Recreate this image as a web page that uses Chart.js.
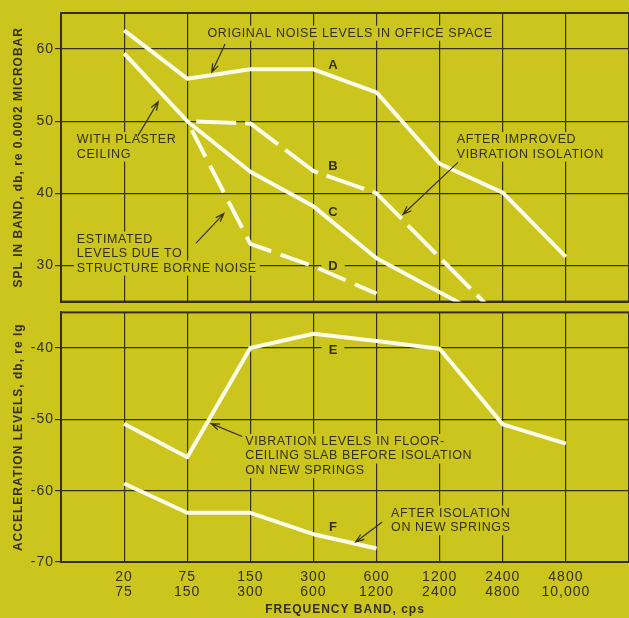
<!DOCTYPE html>
<html>
<head>
<meta charset="utf-8">
<script src="https://cdn.jsdelivr.net/npm/chart.js@4.4.0/dist/chart.umd.min.js"></script>
<style>
  html, body { margin: 0; padding: 0; background: #cbc51e; }
  #wrap { position: relative; width: 629px; height: 618px; overflow: hidden; }
  #topChart { position: absolute; left: 0; top: 0; }
  #botChart { position: absolute; left: 0; top: 303px; }
</style>
</head>
<body>
<div id="wrap">
  <canvas id="topChart" width="629" height="311"></canvas>
  <canvas id="botChart" width="629" height="315"></canvas>
</div>
<script>
// frequency bands (two label rows)
const bandLow = ['20', '75', '150', '300', '600', '1200', '2400', '4800'];
const bandHigh = ['75', '150', '300', '600', '1200', '2400', '4800', '10,000'];

// y ticks
const splTicks = [30, 40, 50, 60];
const accTicks = [-70, -60, -50, -40];

// upper panel: SPL in band, db
const curveA = [62.6, 55.9, 57.2, 57.2, 54.0, 44.1, 40.1, 31.2];
const curveB = [null, 50, 49.7, 43.1, 40.0, 31.1, 22.3, null];
const curveC = [59.4, 50, 43.0, 38.2, 31.0, 26.3, 21.6, null];
const curveD = [null, 50, 33.0, 29.9, 26.1, null, null, null];

// lower panel: acceleration levels, db
const curveE = [-50.6, -55.3, -40.0, -38.0, -39.0, -40.1, -50.7, -53.4];
const curveF = [-59.0, -63.1, -63.1, -66.1, -68.1, null, null, null];

const bg = '#cbc51e';
const ink = '#34300f';
const white = '#fffce8';

function pts(arr) {
  return arr.map((v, i) => ({ x: i + 1, y: v }));
}

function curve(arr, dash, offset) {
  return {
    data: pts(arr),
    borderColor: white,
    borderWidth: 4,
    borderDash: dash || [],
    borderDashOffset: offset || 0,
    borderCapStyle: 'butt',
    borderJoinStyle: 'round',
    pointRadius: 0,
    tension: 0,
    clip: 0,
    spanGaps: false
  };
}

// annotation text and arrows, placed in data units
const topNotes = [
  { lines: ['ORIGINAL NOISE LEVELS IN OFFICE SPACE'], x: 4.58, y: 62.2, align: 'center' },
  { lines: ['A'], x: 4.31, y: 57.8, bold: true, align: 'center', pad: 7 },
  { lines: ['WITH PLASTER', 'CEILING'], x: 0.25, y: 47.45 },
  { lines: ['ESTIMATED', 'LEVELS DUE TO', 'STRUCTURE BORNE NOISE'], x: 0.25, y: 33.66 },
  { lines: ['B'], x: 4.31, y: 43.7, bold: true, align: 'center', pad: 7 },
  { lines: ['C'], x: 4.31, y: 37.4, bold: true, align: 'center', pad: 7 },
  { lines: ['D'], x: 4.31, y: 29.9, bold: true, align: 'center', pad: 7 },
  { lines: ['AFTER IMPROVED', 'VIBRATION ISOLATION'], x: 6.27, y: 47.45 }
];
const topArrows = [
  [2.60, 60.7, 2.39, 56.8],
  [1.22, 48.0, 1.54, 52.7],
  [2.14, 33.1, 2.58, 37.2],
  [6.29, 44.3, 5.42, 37.1]
];
const botNotes = [
  { lines: ['E'], x: 4.31, y: -40.4, bold: true, align: 'center', pad: 7 },
  { lines: ['VIBRATION LEVELS IN FLOOR-', 'CEILING SLAB BEFORE ISOLATION', 'ON NEW SPRINGS'], x: 2.92, y: -53.1 },
  { lines: ['AFTER ISOLATION', 'ON NEW SPRINGS'], x: 5.23, y: -63.15 },
  { lines: ['F'], x: 4.31, y: -65.2, bold: true, align: 'center', pad: 7 }
];
const botArrows = [
  [2.87, -52.4, 2.38, -50.6],
  [5.09, -64.4, 4.67, -67.2]
];

const notesPlugin = {
  id: 'notes',
  beforeDraw(chart) {
    chart.ctx.letterSpacing = '1px';
  },
  beforeDatasetsDraw(chart, args, opts) {
    const { ctx, chartArea: a, scales: { x, y } } = chart;
    ctx.save();
    ctx.strokeStyle = ink;
    ctx.lineWidth = 2;
    ctx.strokeRect(a.left, a.top, a.right - a.left, a.bottom - a.top);
    ctx.textBaseline = 'middle';
    (opts.items || []).forEach(n => {
      const px = x.getPixelForValue(n.x);
      const py = y.getPixelForValue(n.y);
      ctx.font = n.bold ? 'bold 13px "Liberation Sans"' : '12.5px "Liberation Sans"';
      ctx.letterSpacing = n.bold ? '0px' : '0.6px';
      const pad = n.pad || 3;
      n.lines.forEach((t, k) => {
        const ly = py + k * 14.5;
        const w = ctx.measureText(t).width;
        const lx = n.align === 'center' ? px - w / 2 : px;
        ctx.fillStyle = bg;
        ctx.fillRect(lx - pad, ly - 7.5, w + pad * 2, 15);
        ctx.fillStyle = ink;
        ctx.textAlign = 'left';
        ctx.fillText(t, lx, ly);
      });
    });
    ctx.restore();
  },
  afterDatasetsDraw(chart, args, opts) {
    const { ctx, scales: { x, y } } = chart;
    ctx.save();
    ctx.strokeStyle = ink;
    ctx.lineWidth = 1.2;
    (opts.arrows || []).forEach(([ax, ay, bx, by]) => {
      const x0 = x.getPixelForValue(ax), y0 = y.getPixelForValue(ay);
      const x1 = x.getPixelForValue(bx), y1 = y.getPixelForValue(by);
      const ang = Math.atan2(y1 - y0, x1 - x0);
      ctx.beginPath();
      ctx.moveTo(x0, y0);
      ctx.lineTo(x1, y1);
      ctx.moveTo(x1 - 9 * Math.cos(ang - 0.35), y1 - 9 * Math.sin(ang - 0.35));
      ctx.lineTo(x1, y1);
      ctx.lineTo(x1 - 9 * Math.cos(ang + 0.35), y1 - 9 * Math.sin(ang + 0.35));
      ctx.stroke();
    });
    ctx.restore();
  }
};

function xScale(showLabels) {
  return {
    type: 'linear',
    min: 0,
    max: bandLow.length + 1,
    afterBuildTicks: s => { s.ticks = bandLow.map((_, i) => ({ value: i + 1 })); },
    grid: { color: ink, lineWidth: 1.2, drawTicks: false },
    border: { color: ink, width: 2 },
    ticks: {
      display: showLabels,
      autoSkip: false,
      maxRotation: 0,
      padding: 7,
      color: ink,
      font: { family: 'Liberation Sans', size: 14, lineHeight: 1.1 },
      callback: v => [bandLow[v - 1], bandHigh[v - 1]]
    },
    title: {
      display: showLabels,
      text: 'FREQUENCY BAND, cps',
      color: ink,
      font: { family: 'Liberation Sans', size: 12, weight: 'bold' },
      padding: { top: 0, bottom: 1 }
    },
    afterFit: s => { s.height = showLabels ? 56 : 8; }
  };
}

function yScale(ticks, min, max, title) {
  return {
    min: min,
    max: max,
    afterBuildTicks: s => { s.ticks = ticks.map(v => ({ value: v })); },
    grid: { color: ink, lineWidth: 1.2, tickLength: 6 },
    border: { color: ink, width: 2 },
    ticks: {
      padding: 1,
      color: ink,
      font: { family: 'Liberation Sans', size: 14 },
      callback: v => String(v)
    },
    title: {
      display: true,
      text: title,
      color: ink,
      font: { family: 'Liberation Sans', size: 12, weight: 'bold' },
      padding: { top: 11 }
    },
    afterFit: s => { s.width = 61; }
  };
}

const common = {
  responsive: false,
  animation: false,
  events: [],
  plugins: { legend: { display: false }, tooltip: { enabled: false } }
};

new Chart(document.getElementById('topChart'), {
  type: 'line',
  data: {
    datasets: [
      curve(curveA),
      curve(curveC),
      curve(curveB, [40, 9], 40),
      curve(curveD, [30, 10], 30)
    ]
  },
  options: {
    ...common,
    layout: { padding: { top: 13, left: 0, right: 0, bottom: 0 } },
    scales: {
      x: xScale(false),
      y: yScale(splTicks, 25, 65, 'SPL IN BAND, db, re 0.0002 MICROBAR')
    },
    plugins: { ...common.plugins, notes: { items: topNotes, arrows: topArrows } }
  },
  plugins: [notesPlugin]
});

new Chart(document.getElementById('botChart'), {
  type: 'line',
  data: {
    datasets: [
      curve(curveE),
      curve(curveF)
    ]
  },
  options: {
    ...common,
    layout: { padding: { top: 8, left: 0, right: 0, bottom: 0 } },
    scales: {
      x: xScale(true),
      y: yScale(accTicks, -70, -35, 'ACCELERATION LEVELS, db, re lg')
    },
    plugins: { ...common.plugins, notes: { items: botNotes, arrows: botArrows } }
  },
  plugins: [notesPlugin]
});
</script>
</body>
</html>
